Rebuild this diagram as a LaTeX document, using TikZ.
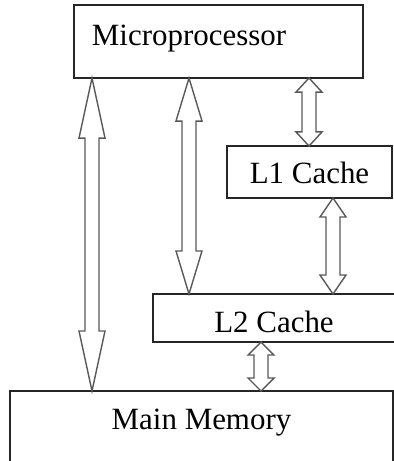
\documentclass[tikz,border=0pt]{standalone}
\usepackage{fontspec}
\setmainfont{Liberation Serif}
\usetikzlibrary{calc}

% hollow two-headed bus between two points on the same vertical
\newcommand{\membus}[3]{%
  \draw[bus] let \p1=(#1), \p2=(#2) in
    (\x1,\y1) -- (\x1+9.25pt,\y1-#3) -- (\x1+5pt,\y1-#3)
    -- (\x1+5pt,\y2+#3) -- (\x1+9.25pt,\y2+#3) -- (\x1,\y2)
    -- (\x1-9.25pt,\y2+#3) -- (\x1-5pt,\y2+#3)
    -- (\x1-5pt,\y1-#3) -- (\x1-9.25pt,\y1-#3) -- cycle;}

\begin{document}
\begin{tikzpicture}[
    x=0.025cm, y=-0.025cm,
    unit/.style={draw=black!85, line width=1.2pt, inner ysep=0pt, outer sep=0pt,
      font=\fontsize{22}{26}\selectfont},
    bus/.style={draw=black!65, line width=1pt, fill=white, line join=miter}
  ]
    \path[use as bounding box, clip] (0,0) rectangle (394,461);

    \node[unit, anchor=north, minimum width=7.225cm, text width=6.325cm,
      inner xsep=0.45cm, align=left, text height=1cm, text depth=0.825cm]
      (mp) at (218.5,5) {Microprocessor};
    \node[unit, anchor=north, minimum width=4.125cm,
      text height=0.925cm, text depth=0.375cm] (l1) at (309.5,146) {L1 Cache};
    \node[unit, anchor=north, minimum width=6.05cm,
      text height=0.95cm, text depth=0.25cm] (l2) at (274,294) {L2 Cache};
    \node[unit, anchor=north, minimum width=9.575cm,
      text height=0.95cm, text depth=1.5cm] (mm) at (201.5,391) {Main Memory};

    \coordinate (b1) at (92,0);
    \coordinate (b2) at (189,0);
    \coordinate (b3) at (309,0);
    \coordinate (b4) at (333,0);
    \coordinate (b5) at (261,0);

    \membus{mp.south -| b1}{mm.north -| b1}{42.7pt}
    \membus{mp.south -| b2}{l2.north -| b2}{30.6pt}
    \membus{mp.south -| b3}{l1.north -| b3}{10pt}
    \membus{l1.south -| b4}{l2.north -| b4}{13.5pt}
    \membus{l2.south -| b5}{mm.north -| b5}{9.25pt}
  \end{tikzpicture}
\end{document}
